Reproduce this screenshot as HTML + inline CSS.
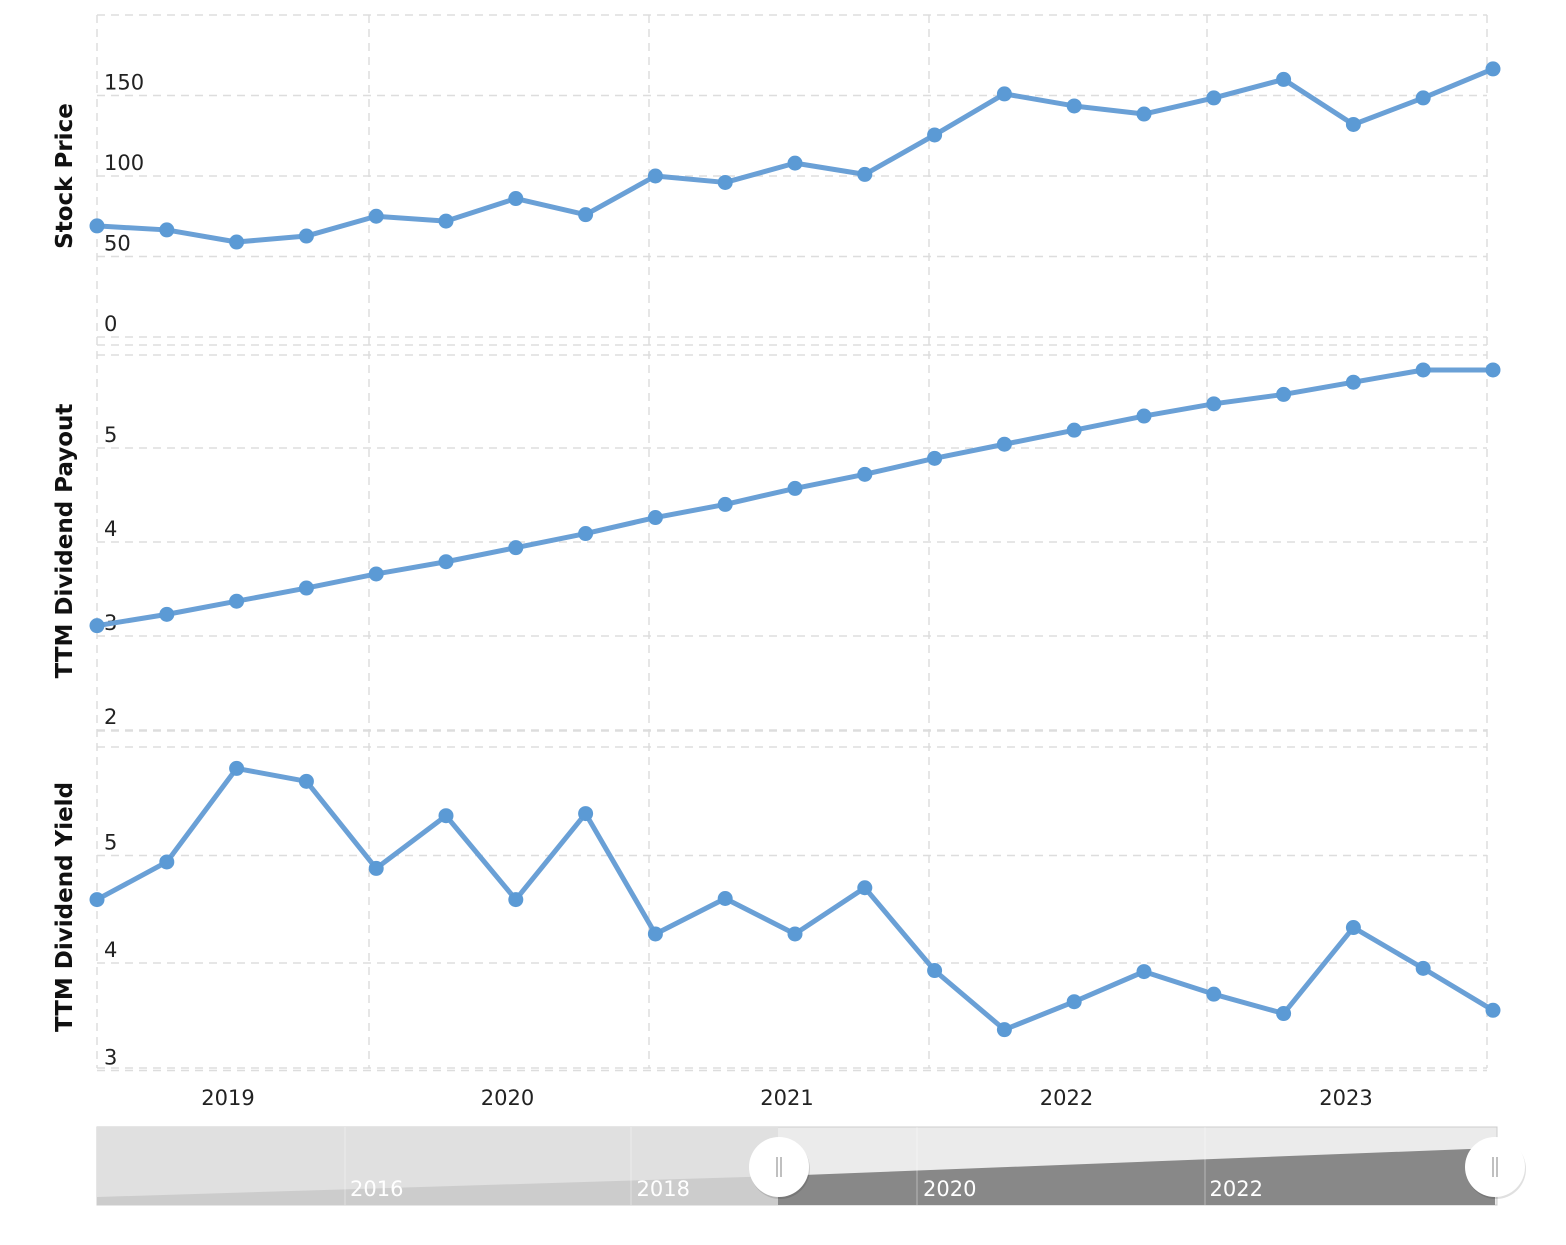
<!DOCTYPE html>
<html><head><meta charset="utf-8"><style>
body{margin:0;background:#fff}
svg{display:block;font-family:"DejaVu Sans","Liberation Sans",sans-serif}
</style></head><body>
<svg id="c" width="1566" height="1245"></svg>
<script>
const xLabels=["2019","2020","2021","2022","2023"];
const stockPrice=[69,66.5,59,62.7,75,72,86,76,100,96,108,101,125.5,151,143.5,138.5,148.5,160,132,148.5,166.5];
const dividendPayout=[3.11,3.23,3.37,3.51,3.66,3.79,3.94,4.09,4.26,4.40,4.57,4.72,4.89,5.04,5.19,5.34,5.47,5.57,5.70,5.83,5.83];
const dividendYield=[4.59,4.94,5.81,5.69,4.88,5.37,4.59,5.39,4.27,4.60,4.27,4.70,3.93,3.38,3.64,3.92,3.71,3.53,4.33,3.95,3.56];
const stockTicks=[0,50,100,150];
const payoutTicks=[2,3,4,5];
const yieldTicks=[3,4,5];
const navLabels=["2016","2018","2020","2022"];

const NS="http://www.w3.org/2000/svg";
const svg=document.getElementById('c');
function mk(t,a,p){const e=document.createElementNS(NS,t);for(const k in a)e.setAttribute(k,a[k]);(p||svg).appendChild(e);return e;}
const X0=97,X1=1493;
const n=stockPrice.length;
const xs=i=>X0+i*(X1-X0)/(n-1);

[97,369,649,929,1207,1487].forEach(x=>{
  const l=mk('line',{x1:x,x2:x,y1:15,y2:1068,stroke:'#ddd','stroke-dasharray':'8,6','stroke-width':1.5});
  
  
});

function panel(name,title,vals,ticks,yf,top,bottom,titleY){
  const g=mk('g',{});
  
  
  [top,bottom].forEach(y=>{
    const l=mk('line',{x1:97,x2:1487,y1:y,y2:y,stroke:'#ddd','stroke-dasharray':'8,6','stroke-width':1.5},g);
    
    
  });
  ticks.forEach(t=>{
    const y=yf(t);
    const l=mk('line',{x1:97,x2:1487,y1:y,y2:y,stroke:'#ddd','stroke-dasharray':'8,6','stroke-width':1.5},g);
    
    
    const tx=mk('text',{x:104,y:y-6,'font-size':21,fill:'#222'},g);
    tx.textContent=t;
    
    
  });
  const at=mk('text',{x:0,y:0,'font-size':23,'font-weight':'bold',fill:'#111','text-anchor':'middle',transform:`translate(72,${titleY}) rotate(-90)`},g);
  at.textContent=title;
  
  
  const pts=vals.map((v,i)=>xs(i)+','+yf(v)).join(' ');
  const pl=mk('polyline',{points:pts,fill:'none',stroke:'#6aa0d6','stroke-width':5,'stroke-linejoin':'round'},g);
  
  
  vals.forEach((v,i)=>{
    const c=mk('circle',{cx:xs(i),cy:yf(v),r:7.5,fill:'#5b9ad5'},g);
    
    
  });
}
panel('stock-price','Stock Price',stockPrice,stockTicks,v=>337-1.61*v,15,345,176);
panel('dividend-payout','TTM Dividend Payout',dividendPayout,payoutTicks,v=>448-(v-5)*94,355,731,541);
panel('dividend-yield','TTM Dividend Yield',dividendYield,yieldTicks,v=>963-(v-4)*107.5,747,1068,907);

xLabels.forEach((t,i)=>{
  const tx=mk('text',{x:228+i*279.5,y:1105,'font-size':21,fill:'#222','text-anchor':'middle'});
  tx.textContent=t;
  
  
});

const nav=mk('g',{});


mk('rect',{x:97,y:1127,width:1400,height:78,fill:'#ebebeb',stroke:'#ccc'},nav);
mk('rect',{x:97,y:1127,width:681,height:78,fill:'#e0e0e0'},nav);
mk('polygon',{points:'97,1197 778,1176 778,1205 97,1205',fill:'#cccccc'},nav);
mk('polygon',{points:'778,1176 1495,1148 1495,1205 778,1205',fill:'#888'},nav);
[345,631,917,1205].forEach(x=>mk('line',{x1:x,x2:x,y1:1127,y2:1205,stroke:'#fff','stroke-opacity':0.4},nav));
navLabels.forEach((t,i)=>{
  const tx=mk('text',{x:350+i*286.5,y:1196,'font-size':21,fill:'#fff'},nav);
  tx.textContent=t;
  
  
});
[779,1495].forEach(x=>{
  const h=mk('g',{},nav);
  
  
  mk('circle',{cx:x+1,cy:1169,r:30,fill:'#000','fill-opacity':0.12},h);
  mk('circle',{cx:x,cy:1167,r:30,fill:'#fff'},h);
  mk('line',{x1:x-2,x2:x-2,y1:1157,y2:1177,stroke:'#aaa','stroke-width':1.5},h);
  mk('line',{x1:x+2,x2:x+2,y1:1157,y2:1177,stroke:'#aaa','stroke-width':1.5},h);
});
</script>
</body></html>
